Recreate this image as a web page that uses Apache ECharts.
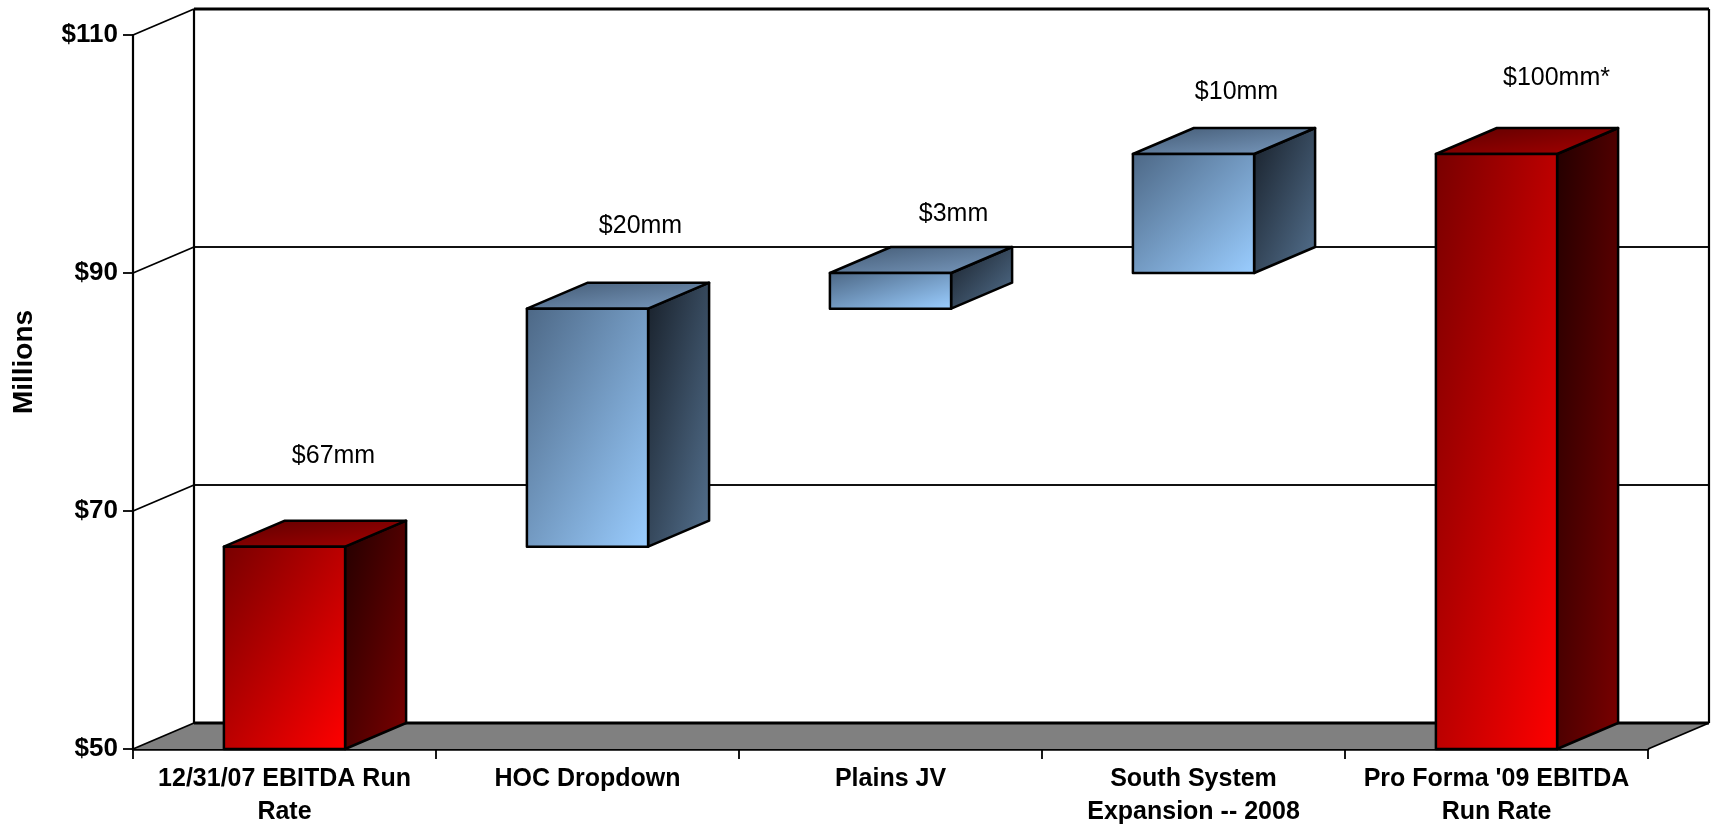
<!DOCTYPE html>
<html>
<head>
<meta charset="utf-8">
<title>EBITDA Run Rate Bridge</title>
<script src="https://cdn.jsdelivr.net/npm/echarts@6/dist/echarts.min.js"></script>
<style>
  html, body { margin: 0; padding: 0; background: #ffffff; }
  #chart { width: 1712px; height: 829px; }
</style>
</head>
<body>
<div id="chart"></div>
<script>
// ---- chart data ----
const categories = [
  '12/31/07 EBITDA Run\nRate',
  'HOC Dropdown',
  'Plains JV',
  'South System\nExpansion -- 2008',
  "Pro Forma '09 EBITDA\nRun Rate"
];
const amounts = [67, 20, 3, 10, 100];            // $ millions
const barKinds = ['total', 'step', 'step', 'step', 'total'];
const footnoteMarks = ['', '', '', '', '*'];
const yMin = 50, yMax = 110, yStep = 20;
const yTitle = 'Millions';

// ---- layout helpers (not data) ----
const FONT = "'Liberation Sans', Arial, Helvetica, sans-serif";
const DEPTH = [61, -26];                           // 3-D depth offset in px
const BAR_RATIO = 0.4;                             // front face width / category width
const labelNudge = [[49, -91], [53, -83], [63, -59], [43, -62], [60, -76]];

// waterfall ranges: totals rise from the base, steps float on the running sum
const barRows = [];
let running = 0;
amounts.forEach(function (v, i) {
  let low, high;
  if (barKinds[i] === 'total') { low = 0; high = v; running = v; }
  else { low = running; high = running + v; running = high; }
  barRows.push([i, low, high, barKinds[i] === 'total' ? 1 : 0]);
});

// gradient whose colour bands run corner-to-corner in the shape's own box
function diag(x, y, w, h, c0, c1) {
  const d = w * w + h * h;
  return new echarts.graphic.LinearGradient(
    x, y, x + 2 * w * h * h / d, y + 2 * w * w * h / d,
    [{ offset: 0, color: c0 }, { offset: 1, color: c1 }], true);
}

const palette = {
  1: { front: ['#780000', '#ff0000'], top: ['#5e0000', '#a60000'], side: ['#230000', '#7a0000'] },
  0: { front: ['#4d6886', '#9acdff'], top: ['#435a74', '#7a9bc0'], side: ['#18202a', '#54718f'] }
};

function renderWall(params, api) {
  const cs = params.coordSys;
  const x0 = cs.x, x1 = cs.x + cs.width;
  const dx = DEPTH[0], dy = DEPTH[1];
  const yB = api.coord([0, yMin])[1];
  const yT = api.coord([0, yMax])[1];
  const children = [];
  // floor
  children.push({
    type: 'polygon',
    shape: { points: [[x0, yB], [x1, yB], [x1 + dx, yB + dy], [x0 + dx, yB + dy]] },
    style: { fill: '#808080', stroke: null }
  });
  // back-wall grid lines and their diagonals to the front axis
  for (let v = yMin + yStep; v <= yMax; v += yStep) {
    const y = api.coord([0, v])[1];
    const top = v === yMax;
    children.push({
      type: 'line',
      shape: { x1: x0 + dx, y1: y + dy, x2: x1 + dx, y2: y + dy },
      style: { stroke: top ? '#000' : '#111', lineWidth: top ? 3 : 2 }
    });
    children.push({
      type: 'line',
      shape: { x1: x0, y1: y, x2: x0 + dx, y2: y + dy },
      style: { stroke: '#000', lineWidth: 1.8 }
    });
  }
  // back wall verticals
  children.push({ type: 'line', shape: { x1: x0 + dx, y1: yT + dy, x2: x0 + dx, y2: yB + dy }, style: { stroke: '#000', lineWidth: 2.2 } });
  children.push({ type: 'line', shape: { x1: x1 + dx, y1: yT + dy, x2: x1 + dx, y2: yB + dy }, style: { stroke: '#000', lineWidth: 2.2 } });
  // floor edges
  children.push({ type: 'line', shape: { x1: x0 + dx, y1: yB + dy, x2: x1 + dx, y2: yB + dy }, style: { stroke: '#000', lineWidth: 3 } });
  children.push({ type: 'line', shape: { x1: x0, y1: yB, x2: x0 + dx, y2: yB + dy }, style: { stroke: '#000', lineWidth: 1.8 } });
  children.push({ type: 'line', shape: { x1: x1, y1: yB, x2: x1 + dx, y2: yB + dy }, style: { stroke: '#000', lineWidth: 1.8 } });
  return { type: 'group', children: children };
}

function renderBar(params, api) {
  const idx = api.value(0);
  const low = Math.max(api.value(1), yMin);
  const high = api.value(2);
  const col = palette[api.value(3)];
  const dx = DEPTH[0], dy = DEPTH[1];
  const pTop = api.coord([idx, high]);
  const pLow = api.coord([idx, low]);
  const w = api.size([1, 0])[0] * BAR_RATIO;
  const xl = pTop[0] - w / 2, xr = pTop[0] + w / 2;
  const yt = pTop[1], yb = pLow[1];
  const edge = { stroke: '#000', lineWidth: 2.5, lineJoin: 'round' };
  const i = params.dataIndex;
  const value = amounts[i];
  return {
    type: 'group',
    children: [
      {
        type: 'polygon',
        shape: { points: [[xr, yt], [xr + dx, yt + dy], [xr + dx, yb + dy], [xr, yb]] },
        style: Object.assign({ fill: diag(xr, yt + dy, dx, yb - yt - dy, col.side[0], col.side[1]) }, edge)
      },
      {
        type: 'polygon',
        shape: { points: [[xl, yt], [xr, yt], [xr + dx, yt + dy], [xl + dx, yt + dy]] },
        style: Object.assign({ fill: diag(xl, yt + dy, w + dx, -dy, col.top[0], col.top[1]) }, edge)
      },
      {
        type: 'rect',
        shape: { x: xl, y: yt, width: w, height: yb - yt },
        style: Object.assign({ fill: diag(xl, yt, w, yb - yt, col.front[0], col.front[1]) }, edge)
      },
      {
        type: 'text',
        style: {
          text: '$' + value + 'mm' + footnoteMarks[i],
          x: pTop[0] + labelNudge[i][0],
          y: yt + labelNudge[i][1],
          align: 'center',
          verticalAlign: 'middle',
          fill: '#000',
          font: '25px ' + FONT
        }
      }
    ]
  };
}

const chart = echarts.init(document.getElementById('chart'), null, { renderer: 'canvas' });
chart.setOption({
  animation: false,
  backgroundColor: '#ffffff',
  grid: { left: 133, right: 64, top: 35, bottom: 80, containLabel: false },
  graphic: [
    {
      type: 'text',
      x: 24,
      y: 362,
      rotation: Math.PI / 2,
      silent: true,
      style: {
        text: yTitle,
        align: 'center',
        verticalAlign: 'middle',
        fill: '#000',
        font: 'bold 28px ' + FONT
      }
    }
  ],
  xAxis: {
    type: 'category',
    data: categories,
    boundaryGap: true,
    axisLine: { show: true, lineStyle: { color: '#000', width: 2.5 } },
    axisTick: { show: true, length: 10, lineStyle: { color: '#000', width: 1.8 } },
    axisLabel: {
      interval: 0, margin: 14, color: '#000',
      fontFamily: FONT, fontSize: 25, fontWeight: 'bold', lineHeight: 33, align: 'center'
    },
    splitLine: { show: false }
  },
  yAxis: {
    type: 'value',
    min: yMin, max: yMax, interval: yStep,
    axisLine: { show: true, lineStyle: { color: '#000', width: 2.2 } },
    axisTick: { show: true, length: 10, lineStyle: { color: '#000', width: 1.8 } },
    axisLabel: {
      margin: 15, color: '#000', fontFamily: FONT, fontSize: 26, fontWeight: 'bold',
      formatter: function (v) { return '$' + v; }
    },
    splitLine: { show: false }
  },
  series: [
    {
      type: 'custom',
      name: 'wall',
      silent: true,
      clip: false,
      z: 1,
      data: [[0, yMin]],
      encode: { x: 0, y: 1 },
      renderItem: renderWall
    },
    {
      type: 'custom',
      name: 'EBITDA',
      clip: false,
      z: 3,
      data: barRows,
      encode: { x: 0, y: [1, 2] },
      renderItem: renderBar
    }
  ]
});
</script>
</body>
</html>
